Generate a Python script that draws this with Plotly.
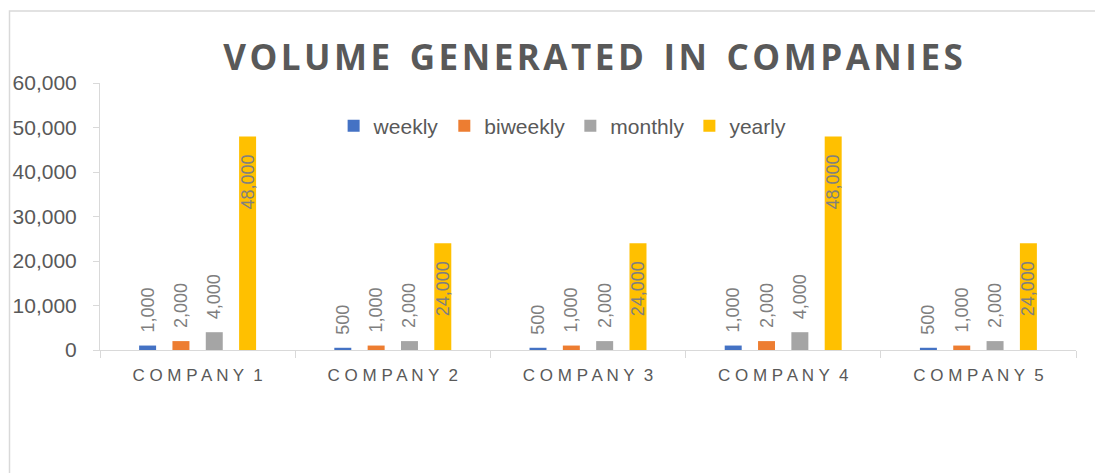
import plotly.graph_objects as go

categories = ["Company 1", "Company 2", "Company 3", "Company 4", "Company 5"]
category_labels = ["C O M P A N Y  1", "C O M P A N Y  2", "C O M P A N Y  3", "C O M P A N Y  4", "C O M P A N Y  5"]
weekly = [1000, 500, 500, 1000, 500]
biweekly = [2000, 1000, 1000, 2000, 1000]
monthly = [4000, 2000, 2000, 4000, 2000]
yearly = [48000, 24000, 24000, 48000, 24000]
y_ticks = [0, 10000, 20000, 30000, 40000, 50000, 60000]
title_text = "VOLUME GENERATED IN COMPANIES"

NB = "\u00a0"
HAIR = "\u200a"
series = [
    ("weekly", weekly, "#4472C4", "outside"),
    ("biweekly", biweekly, "#ED7D31", "outside"),
    ("monthly", monthly, "#A5A5A5", "outside"),
    ("yearly", yearly, "#FFC000", "inside"),
]

FONT = "Liberation Sans, Arial, sans-serif"
fig = go.Figure()
for name, vals, color, pos in series:
    if pos == "outside":
        labels = [NB * 2 + f"{v:,}" for v in vals]
    else:
        labels = [f"{v:,}" + NB * 3 for v in vals]
    fig.add_trace(go.Bar(
        name=name, x=categories, y=vals,
        marker=dict(color=color, line=dict(width=0)),
        text=labels,
        textposition=pos,
        insidetextanchor="end",
        textangle=-90,
        constraintext="none",
        cliponaxis=False,
        textfont=dict(family=FONT, size=18, color="#7F7F7F"),
        insidetextfont=dict(family=FONT, size=18, color="#7F7F7F"),
        outsidetextfont=dict(family=FONT, size=18, color="#7F7F7F"),
    ))

spaced_title = HAIR.join(list(title_text)).replace(" ", " " + HAIR)

OFF = 8  # page body offset
fig.update_layout(
    width=1103 - OFF, height=473 - OFF,
    margin=dict(l=100 - OFF, r=27, t=83 - OFF, b=123, autoexpand=False),
    paper_bgcolor="white", plot_bgcolor="white",
    barmode="group", bargap=0.317, bargroupgap=0.49,
    uniformtext=dict(minsize=18, mode="show"),
    title=dict(
        text="<b>" + spaced_title + "</b>",
        x=(593 - OFF) / (1103 - OFF), xanchor="center",
        y=1 - (58 - OFF) / (473 - OFF), yanchor="middle",
        font=dict(family="Open Sans, sans-serif", size=35, color="#595959"),
    ),
    legend=dict(
        orientation="h", x=0.474, xanchor="center", y=0.839, yanchor="middle",
        font=dict(family=FONT, size=21, color="#595959"),
        bgcolor="rgba(0,0,0,0)", itemwidth=30, traceorder="normal",
    ),
    showlegend=True,
)
fig.update_xaxes(
    type="category", tickvals=categories, ticktext=category_labels,
    showline=True, linecolor="#D9D9D9", linewidth=1,
    ticks="outside", tickson="boundaries", ticklen=7, tickcolor="#D9D9D9",
    ticklabelstandoff=10, automargin=False,
    tickfont=dict(family=FONT, size=17, color="#595959"),
    showgrid=False,
)
fig.update_yaxes(
    range=[0, 60000], tickvals=y_ticks, tickformat=",",
    showline=True, linecolor="#D9D9D9", linewidth=1,
    ticks="outside", ticklen=6, tickcolor="#D9D9D9",
    ticklabelstandoff=12, automargin=False,
    tickfont=dict(family=FONT, size=21, color="#595959"),
    showgrid=False, zeroline=False,
)
fig.add_shape(type="rect", xref="paper", yref="paper",
              x0=(1.5 - (100 - OFF)) / 976, x1=1.2, y0=-0.7, y1=(350 - 11) / 267,
              line=dict(color="#D9D9D9", width=1.5), fillcolor="rgba(0,0,0,0)",
              layer="below")
fig.write_html("out.html")
